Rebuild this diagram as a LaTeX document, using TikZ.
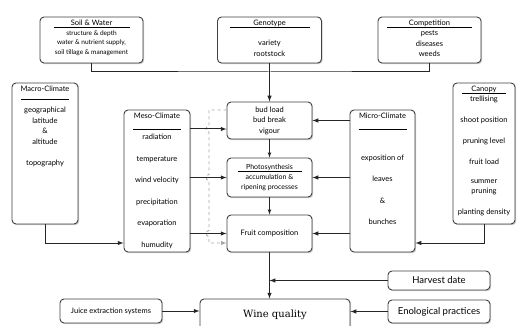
\documentclass[tikz,border=0pt]{standalone}
\usepackage{fontspec}
\setmainfont{Lato}
\newfontfamily\slabfont{DejaVu Serif}
\usetikzlibrary{positioning,shadows}

\newcommand{\boxtitle}[2]{\leavevmode\hbox to #2{\rlap{\rule[-1.8pt]{#2}{0.5pt}}\hfil #1\hfil}}

\begin{document}
\begin{tikzpicture}[x=1pt,y=-1pt,>=latex,
    box/.style={draw=black!75,line width=0.9pt,rounded corners=4pt,fill=white,
      drop shadow={opacity=0.4,shadow xshift=1.2pt,shadow yshift=-1.2pt},
      align=center,inner sep=3pt,font=\fontsize{7.5}{10.5}\selectfont},
    link/.style={line width=1pt,black!85},
    aux/.style={line width=0.9pt,gray!70,dashed}]

  \useasboundingbox (0,0) rectangle (517,326);

  \node[box,minimum width=103pt,minimum height=46pt] (soil) at (91.5,40)
    {\parbox[c][40pt][t]{97pt}{\centering\fontsize{6.5}{9.5}\selectfont
      {\fontsize{7.5}{9.5}\selectfont\boxtitle{Soil \& Water}{76pt}}\\
      structure \& depth\\ water \& nutrient supply,\\ soil tillage \& management}};
  \node[box,minimum width=104pt,minimum height=46pt] (geno) at (269.5,40)
    {\parbox[c][40pt][t]{98pt}{\centering
      \boxtitle{Genotype}{80pt}\\[10pt] variety\\ rootstock}};
  \node[box,minimum width=103pt,minimum height=46pt] (comp) at (429.5,40)
    {\parbox[c][40pt][t]{97pt}{\centering
      \boxtitle{Competition}{85pt}\\ pests\\ diseases\\ weeds}};

  \node[box,minimum width=66pt,minimum height=141pt] (macro) at (45,153.5)
    {\parbox[c][135pt][t]{60pt}{\centering
      Macro-Climate\\ \rule[3pt]{48pt}{0.5pt}\\ geographical\\ latitude\\ \&\\ altitude\\[10.5pt] topography}};
  \node[box,minimum width=66pt,minimum height=142pt] (meso) at (157,181)
    {\parbox[c][136pt][t]{60pt}{\centering
      Meso-Climate\\ \rule{48pt}{0.5pt}\\ radiation\\[11pt] temperature\\[11pt] wind velocity\\[11pt]
      precipitation\\[11pt] evaporation\\[11pt] humudity}};
  \node[box,minimum width=65pt,minimum height=142pt] (micro) at (382.5,181)
    {\parbox[c][136pt][t]{59pt}{\centering
      Micro-Climate\\ \rule{48pt}{0.5pt}\\[20.5pt] exposition of\\[11pt] leaves\\[11pt] \&\\[11pt] bunches}};
  \node[box,minimum width=62pt,minimum height=141pt] (canopy) at (484,153.5)
    {\parbox[c][135pt][t]{56pt}{\centering
      \boxtitle{Canopy}{44pt}\\ trellising\\[10.5pt] shoot position\\[10.5pt] pruning level\\[10.5pt]
      fruit load\\[8pt] summer\\ pruning\\[10.5pt] planting density}};

  \node[box,minimum width=85pt,minimum height=37pt] (bud) at (269.5,120.5) {bud load\\ bud break\\ vigour};
  \node[box,minimum width=85pt,minimum height=39pt,font=\fontsize{7}{10}\selectfont] (photo) at (269.5,177.5)
    {\boxtitle{Photosynthesis}{64pt}\\ accumulation \&\\ ripening processes};
  \node[box,minimum width=85pt,minimum height=37pt] (fruit) at (269.5,233.5) {Fruit composition};

  \node[box,minimum width=102pt,minimum height=19pt,font=\fontsize{9.5}{11}\selectfont] (harvest) at (439,280.5) {Harvest date};
  \node[box,minimum width=102pt,minimum height=23pt,font=\fontsize{9.5}{11}\selectfont] (enol) at (439,311.5) {Enological practices};
  \node[box,minimum width=102pt,minimum height=24pt] (juice) at (111,311) {Juice extraction systems};
  \node[box,minimum width=150pt,minimum height=31pt,font=\slabfont\fontsize{10}{12}\selectfont] (wine) at (275,314.5) {Wine quality};

  % top factors
  \coordinate (join) at (269.5,72);
  \draw[link] (soil.south) |- (join) -| (comp.south);
  \draw[link,->] (geno.south) -- (bud.north);

  % climate and canopy
  \draw[link,->] (macro.south) |- (meso.west |- 0,243);
  \draw[link,->] (canopy.south) |- (micro.east |- 0,243);
  \draw[aux,->] (bud.west |- 0,110) -- (209,110) -- (209,126) arc[start angle=90,end angle=270,radius=3pt]
    -- (209,174.5) arc[start angle=90,end angle=270,radius=3pt]
    -- (209,230.5) arc[start angle=90,end angle=270,radius=3pt] -- (209,243) -- (fruit.west |- 0,243);
  \draw[link,->] (meso.east |- 0,129) -- (bud.west |- 0,129);
  \draw[link,->] (meso.east |- photo.west) -- (photo.west);
  \draw[link,->] (meso.east |- fruit.west) -- (fruit.west);
  \draw[link,->] (micro.west |- bud.east) -- (bud.east);
  \draw[link,->] (micro.west |- photo.east) -- (photo.east);
  \draw[link,->] (micro.west |- fruit.east) -- (fruit.east);
  \draw[link,line width=0.7pt,->] (bud.south) -- (photo.north);
  \draw[link,line width=0.7pt,->] (photo.south) -- (fruit.north);

  % towards the wine
  \draw[link,->] (fruit.south) -- (fruit.south |- wine.north);
  \draw[link,->] (harvest.west) -- (harvest.west -| fruit.south);
  \draw[link,->] (juice.east) -- (juice.east -| wine.west);
  \draw[link,->] (enol.west) -- (enol.west -| wine.east);

\end{tikzpicture}
\end{document}
